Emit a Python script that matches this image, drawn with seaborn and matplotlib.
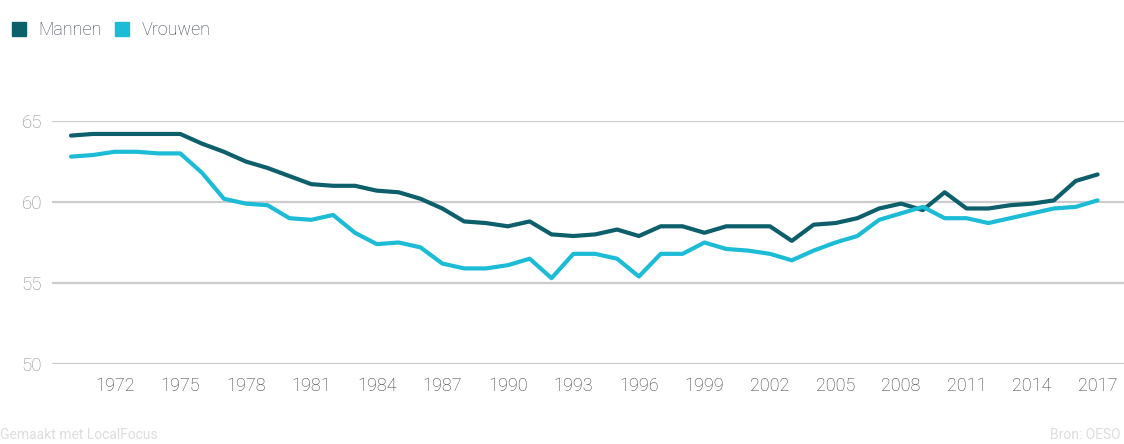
import numpy as np
import pandas as pd
import seaborn as sns
from matplotlib import pyplot as plt
from matplotlib.lines import Line2D

years = list(range(1970, 2018))
mannen = [64.1, 64.2, 64.2, 64.2, 64.2, 64.2, 63.6, 63.1, 62.5, 62.1,
          61.6, 61.1, 61.0, 61.0, 60.7, 60.6, 60.2, 59.6, 58.8, 58.7,
          58.5, 58.8, 58.0, 57.9, 58.0, 58.3, 57.9, 58.5, 58.5, 58.1,
          58.5, 58.5, 58.5, 57.6, 58.6, 58.7, 59.0, 59.6, 59.9, 59.5,
          60.6, 59.6, 59.6, 59.8, 59.9, 60.1, 61.3, 61.7]
vrouwen = [62.8, 62.9, 63.1, 63.1, 63.0, 63.0, 61.8, 60.2, 59.9, 59.8,
           59.0, 58.9, 59.2, 58.1, 57.4, 57.5, 57.2, 56.2, 55.9, 55.9,
           56.1, 56.5, 55.3, 56.8, 56.8, 56.5, 55.4, 56.8, 56.8, 57.5,
           57.1, 57.0, 56.8, 56.4, 57.0, 57.5, 57.9, 58.9, 59.3, 59.7,
           59.0, 59.0, 58.7, 59.0, 59.3, 59.6, 59.7, 60.1]
series = ["Mannen", "Vrouwen"]
colors = ["#0d5f6b", "#1cbcd6"]
xticks = list(range(1972, 2018, 3))
yticks = [50, 55, 60, 65]

df = pd.DataFrame({
    "jaar": years * 2,
    "waarde": mannen + vrouwen,
    "groep": ["Mannen"] * len(years) + ["Vrouwen"] * len(years),
})

sns.set_style("white")
plt.rcParams['font.family'] = ['Roboto', 'DejaVu Sans']

fig = plt.figure(figsize=(11.24, 4.44), dpi=100)
ax = fig.add_axes([52 / 1124, 80 / 444, 1 - 52 / 1124, 243 / 444])

sns.lineplot(data=df, x="jaar", y="waarde", hue="groep", palette=dict(zip(series, colors)),
             linewidth=3, legend=False, ax=ax)

ax.set_xlim(1969.13, 2018.21)
ax.set_ylim(50, 65)
ax.set_xticks(xticks)
ax.set_yticks(yticks)
ax.set_xlabel("")
ax.set_ylabel("")
ax.grid(axis="y", color="#cccccc", linewidth=1.6)
ax.grid(axis="x", visible=False)
ax.set_axisbelow(True)
for s in ax.spines.values():
    s.set_visible(False)
ax.tick_params(axis="x", length=0, pad=9, labelsize=13, labelcolor="#3a3a3a")
ax.tick_params(axis="y", length=0, pad=7, labelsize=13.5, labelcolor="#8a8a8a")
for lab in ax.get_xticklabels() + ax.get_yticklabels():
    lab.set_fontweight("light")

handles = [Line2D([], [], marker="s", linestyle="", markersize=10, color=c) for c in colors]
leg = fig.legend(handles, series, loc="upper left", bbox_to_anchor=(-0.006, 0.985), ncol=2,
                 frameon=False, fontsize=13, handletextpad=0.5, columnspacing=0.5,
                 labelcolor="#3a4450", borderaxespad=0.4, handlelength=1.2)
for t in leg.get_texts():
    t.set_fontweight("light")

fig.text(0.0, 0.005, "Gemaakt met LocalFocus", ha="left", va="bottom", fontsize=10, color="#dddddd")
fig.text(0.997, 0.005, "Bron: OESO", ha="right", va="bottom", fontsize=10, color="#dddddd")

plt.savefig("out.png", dpi=100)
